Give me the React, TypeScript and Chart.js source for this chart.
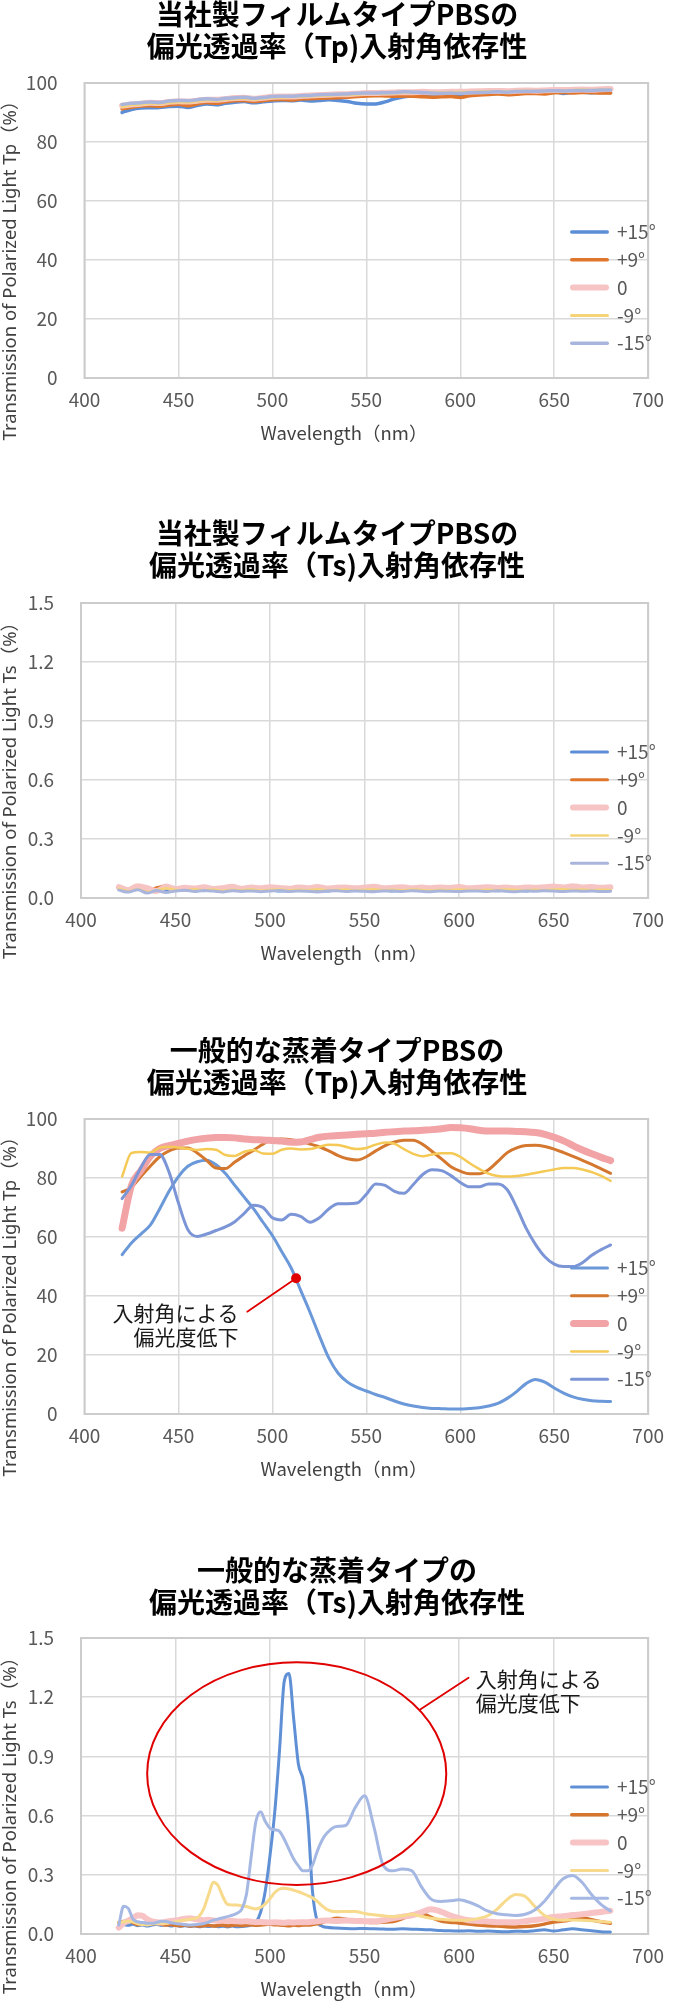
import React, { useEffect, useRef } from "react";
import { Chart, registerables } from "chart.js";

Chart.register(...registerables);

// ---------- shared axis / category data ----------
const WAVELENGTHS = [
  420, 425, 430, 435, 440, 445, 450, 455, 460, 465,
  470, 475, 480, 485, 490, 495, 500, 505, 510, 515,
  520, 525, 530, 535, 540, 545, 550, 555, 560, 565,
  570, 575, 580, 585, 590, 595, 600, 605, 610, 615,
  620, 625, 630, 635, 640, 645, 650, 655, 660, 665,
  670, 675, 680,
];
const WAVELENGTHS_FINE = [
  420, 422.5, 425, 427.5, 430, 432.5, 435, 437.5, 440, 442.5,
  445, 447.5, 450, 452.5, 455, 457.5, 460, 462.5, 465, 467.5,
  470, 472.5, 475, 477.5, 480, 482.5, 485, 487.5, 490, 492.5,
  495, 497.5, 500, 502.5, 505, 507.5, 510, 512.5, 515, 517.5,
  520, 522.5, 525, 527.5, 530, 535, 540, 545, 550, 555,
  560, 565, 570, 575, 580, 585, 590, 595, 600, 605,
  610, 615, 620, 625, 630, 635, 640, 645, 650, 655,
  660, 665, 670, 675, 680,
];
const SERIES_LABELS = ["+15°", "+9°", "0", "-9°", "-15°"];
const X_MIN = 400;
const X_MAX = 700;
const X_STEP = 50;
const TP_MAX = 100;
const TP_STEP = 20;
const TS_MAX = 1.5;
const TS_STEP = 0.3;

// ---------- chart 1: film PBS, Tp ----------
const FILM_TP_P15 = [
  90.0, 91.0, 91.5, 91.6, 91.7, 92.0, 92.1, 91.7, 92.4, 92.9,
  92.6, 93.1, 93.5, 93.7, 93.3, 93.6, 93.9, 94.1, 94.0, 94.2,
  93.9, 94.1, 94.3, 94.1, 93.7, 93.1, 92.9, 92.9, 93.6, 94.6,
  95.3, 95.7, 95.9, 96.0, 96.2, 96.1, 96.0, 96.3, 96.4, 96.6,
  96.7, 96.6, 96.8, 96.9, 96.8, 97.0, 97.1, 96.4, 96.9, 96.9,
  96.7, 96.8, 96.7,
];
const FILM_TP_P9 = [
  91.2, 91.8, 92.2, 92.3, 92.1, 92.5, 92.8, 92.3, 92.9, 93.4,
  93.1, 93.6, 94.0, 94.1, 93.7, 94.0, 94.3, 94.4, 94.2, 94.6,
  94.7, 94.8, 94.9, 95.0, 95.2, 95.4, 95.6, 95.7, 95.6, 95.5,
  95.6, 95.5, 95.3, 95.2, 95.3, 95.4, 95.1, 95.7, 95.9, 96.1,
  96.3, 96.0, 96.2, 96.4, 96.4, 96.3, 96.7, 96.8, 96.6, 96.8,
  96.7, 96.6, 96.6,
];
const FILM_TP_Z = [
  92.3, 92.7, 93.0, 93.3, 93.2, 93.6, 93.8, 93.7, 94.0, 94.3,
  94.3, 94.6, 94.9, 95.0, 94.7, 95.0, 95.3, 95.4, 95.4, 95.6,
  95.8, 95.9, 96.0, 96.2, 96.2, 96.4, 96.6, 96.6, 96.7, 96.8,
  96.9, 96.9, 97.0, 96.9, 96.9, 97.0, 97.0, 97.1, 97.2, 97.3,
  97.3, 97.2, 97.4, 97.5, 97.4, 97.5, 97.6, 97.6, 97.7, 97.8,
  97.7, 97.9, 98.0,
];
const FILM_TP_M9 = [
  92.0, 92.6, 92.8, 93.1, 93.0, 93.4, 93.6, 93.5, 93.8, 94.2,
  94.1, 94.5, 94.7, 94.8, 94.5, 94.8, 95.1, 95.2, 95.3, 95.4,
  95.6, 95.7, 95.8, 96.0, 96.0, 96.2, 96.4, 96.4, 96.5, 96.6,
  96.8, 96.7, 96.8, 96.7, 96.7, 96.8, 96.9, 96.9, 97.0, 97.1,
  97.1, 97.0, 97.2, 97.3, 97.2, 97.3, 97.4, 97.4, 97.5, 97.7,
  97.5, 97.7, 97.7,
];
const FILM_TP_M15 = [
  92.7, 93.1, 93.3, 93.6, 93.4, 93.9, 94.1, 94.0, 94.3, 94.7,
  94.4, 94.8, 95.0, 95.2, 94.8, 95.1, 95.4, 95.5, 95.5, 95.7,
  95.8, 96.0, 96.1, 96.2, 96.3, 96.5, 96.6, 96.6, 96.7, 96.8,
  97.0, 96.9, 96.8, 96.6, 96.5, 96.6, 96.5, 96.7, 96.8, 96.9,
  97.0, 96.9, 97.1, 97.2, 97.2, 97.3, 97.4, 97.3, 97.4, 97.5,
  97.5, 97.6, 97.6,
];

// ---------- chart 2: film PBS, Ts ----------
const FILM_TS_P15 = [
  0.045, 0.038, 0.05, 0.032, 0.042, 0.036, 0.048, 0.041, 0.044, 0.037,
  0.043, 0.039, 0.045, 0.036, 0.04, 0.038, 0.042, 0.035, 0.039, 0.041,
  0.037, 0.04, 0.036, 0.041, 0.038, 0.043, 0.039, 0.037, 0.041, 0.036,
  0.04, 0.038, 0.042, 0.037, 0.039, 0.041, 0.036, 0.04, 0.038, 0.042,
  0.037, 0.04, 0.039, 0.036, 0.041, 0.038, 0.04, 0.043, 0.039, 0.041,
  0.038, 0.04, 0.037,
];
const FILM_TS_P9 = [
  0.05, 0.042, 0.058, 0.035, 0.052, 0.062, 0.038, 0.055, 0.049, 0.044,
  0.053, 0.04, 0.047, 0.045, 0.05, 0.043, 0.048, 0.052, 0.041, 0.049,
  0.046, 0.051, 0.044, 0.047, 0.05, 0.043, 0.052, 0.046, 0.049, 0.053,
  0.045, 0.048, 0.051, 0.044, 0.05, 0.047, 0.049, 0.052, 0.045, 0.048,
  0.05, 0.046, 0.051, 0.047, 0.049, 0.053, 0.046, 0.05, 0.052, 0.048,
  0.05, 0.047, 0.046,
];
const FILM_TS_Z = [
  0.055, 0.04, 0.06, 0.05, 0.035, 0.058, 0.045, 0.052, 0.048, 0.055,
  0.046, 0.05, 0.057, 0.047, 0.053, 0.049, 0.055, 0.051, 0.047, 0.054,
  0.05, 0.056, 0.048, 0.052, 0.054, 0.049, 0.053, 0.057, 0.05, 0.052,
  0.055, 0.049, 0.053, 0.05, 0.054, 0.051, 0.056, 0.05, 0.052, 0.055,
  0.051, 0.053, 0.049, 0.054, 0.052, 0.055, 0.058, 0.053, 0.06, 0.054,
  0.056, 0.052, 0.055,
];
const FILM_TS_M9 = [
  0.048, 0.035, 0.045, 0.03, 0.04, 0.05, 0.042, 0.038, 0.045, 0.04,
  0.043, 0.037, 0.042, 0.04, 0.044, 0.038, 0.041, 0.043, 0.039, 0.042,
  0.04, 0.044, 0.039, 0.041, 0.043, 0.038, 0.042, 0.044, 0.04, 0.042,
  0.039, 0.043, 0.041, 0.038, 0.042, 0.04, 0.043, 0.041, 0.039, 0.042,
  0.04, 0.043, 0.041, 0.039, 0.042, 0.04, 0.043, 0.045, 0.041, 0.043,
  0.04, 0.042, 0.041,
];
const FILM_TS_M15 = [
  0.04, 0.03, 0.042, 0.025, 0.038, 0.028, 0.036, 0.04, 0.033, 0.038,
  0.035, 0.031, 0.037, 0.034, 0.036, 0.032, 0.035, 0.038, 0.033, 0.036,
  0.034, 0.031, 0.035, 0.037, 0.033, 0.036, 0.034, 0.032, 0.036, 0.035,
  0.033, 0.037, 0.034, 0.032, 0.036, 0.034, 0.033, 0.036, 0.035, 0.033,
  0.037, 0.034, 0.032, 0.036, 0.034, 0.037, 0.035, 0.033, 0.036, 0.034,
  0.035, 0.033, 0.034,
];

// ---------- chart 3: evaporated PBS, Tp ----------
const EVAP_TP_P15 = [
  54, 58, 61, 64, 69.5, 75.5, 80.5, 84, 85.5, 86,
  84.5, 81.5, 77.5, 73.5, 69.5, 65, 60.5, 55, 49.5, 42,
  34.5, 26.5, 19, 13.8, 10.8, 9, 7.8, 6.6, 5.6, 4.4,
  3.4, 2.7, 2.2, 1.9, 1.8, 1.7, 1.7, 1.9, 2.1, 2.7,
  3.6, 5.3, 7.6, 10.3, 11.7, 10.8, 8.8, 7.1, 5.8, 5.0,
  4.5, 4.3, 4.2,
];
const EVAP_TP_P9 = [
  75.3, 76.8, 80.5, 84, 87.2, 89.2, 90.2, 90.2, 88.5, 86,
  83.4, 83.2, 85.4, 87.5, 89.4, 91.5, 93, 93.2, 93, 92.4,
  91.5, 90.6, 89.2, 87.6, 86.5, 86.1, 87.2, 89.2, 91, 92.2,
  92.8, 92.8, 91.4, 89, 86.5, 83.8, 82.3, 81.4, 81.4, 82.8,
  85.6, 88.6, 90.2, 91, 91.1, 90.7, 89.8, 88.6, 87.3, 86,
  84.6, 83.1, 81.6,
];
const EVAP_TP_Z = [
  63, 77.5, 82.5, 87.3, 90, 91, 91.7, 92.5, 93.1, 93.5,
  93.7, 93.7, 93.6, 93.2, 93, 92.9, 92.7, 92.5, 92.1, 92.2,
  93, 93.8, 94.2, 94.4, 94.6, 94.8, 95, 95.2, 95.5, 95.7,
  95.9, 96, 96.2, 96.4, 96.7, 97.1, 97, 96.7, 96.2, 95.9,
  95.9, 95.9, 95.8, 95.7, 95.4, 94.8, 93.8, 92.6, 91, 89.5,
  88.2, 87, 85.9,
];
const EVAP_TP_M9 = [
  80.5, 88.5, 88.8, 88.6, 90.3, 90.6, 90.3, 89.9, 89.5, 89.8,
  89.6, 87.8, 87.5, 88.9, 89.5, 88.3, 88.2, 89.6, 90, 89.7,
  89.8, 90.6, 91.3, 91.2, 90.4, 89.8, 90.2, 91.3, 92, 91.6,
  89.8, 88.2, 87.4, 88, 88.4, 88.4, 87.2, 85, 83.1, 81.5,
  80.7, 80.5, 80.7, 81.1, 81.7, 82.3, 82.9, 83.4, 83.4, 82.9,
  82, 80.7, 79,
];
const EVAP_TP_M15 = [
  73, 77.5, 83.5, 88, 88, 82, 71.5, 62.5, 60.2, 61,
  62.2, 63.4, 65.2, 68, 70.8, 70, 66.5, 65.8, 67.7, 67,
  65, 66.5, 69.5, 71.3, 71.3, 71.5, 74.5, 78, 77.5, 75.5,
  74.8, 77.8, 81.2, 82.8, 82.5, 80.8, 78.5, 77, 77, 78,
  78, 76, 70, 63, 57.5, 53.3, 50.8, 50, 50, 51.3,
  53.8, 55.7, 57.3,
];

// ---------- chart 4: evaporated PBS, Ts (fine wavelength grid) ----------
const EVAP_TS_P15 = [
  0.045, 0.048, 0.044, 0.05, 0.042, 0.046, 0.04, 0.045, 0.05, 0.043,
  0.047, 0.04, 0.044, 0.039, 0.042, 0.038, 0.041, 0.037, 0.04, 0.038,
  0.041, 0.037, 0.039, 0.036, 0.04, 0.037, 0.038, 0.04, 0.045, 0.058,
  0.11, 0.22, 0.4, 0.62, 0.93, 1.28, 1.32, 1.09, 0.86, 0.78,
  0.58, 0.21, 0.065, 0.04, 0.034, 0.03, 0.028, 0.027, 0.028, 0.026,
  0.025, 0.024, 0.026, 0.024, 0.023, 0.021, 0.018, 0.016, 0.015, 0.016,
  0.014, 0.015, 0.013, 0.012, 0.014, 0.013, 0.016, 0.022, 0.015, 0.021,
  0.026, 0.022, 0.016, 0.012, 0.01,
];
const EVAP_TS_P9 = [
  0.059, 0.063, 0.067, 0.058, 0.047, 0.05, 0.054, 0.051, 0.055, 0.05,
  0.046, 0.048, 0.044, 0.042, 0.045, 0.041, 0.043, 0.04, 0.042, 0.044,
  0.041, 0.043, 0.045, 0.042, 0.044, 0.046, 0.043, 0.045, 0.047, 0.044,
  0.046, 0.048, 0.05, 0.047, 0.046, 0.044, 0.042, 0.045, 0.043, 0.046,
  0.045, 0.048, 0.052, 0.058, 0.066, 0.08, 0.075, 0.063, 0.06, 0.058,
  0.06, 0.063, 0.078, 0.1, 0.104, 0.085, 0.067, 0.06, 0.056, 0.05,
  0.046, 0.042, 0.04, 0.037, 0.036, 0.038, 0.042, 0.05, 0.061, 0.066,
  0.074, 0.082, 0.072, 0.062, 0.054,
];
const EVAP_TS_Z = [
  0.032, 0.055, 0.067, 0.08, 0.095, 0.092, 0.075, 0.064, 0.06, 0.058,
  0.062, 0.066, 0.068, 0.072, 0.078, 0.08, 0.076, 0.072, 0.07, 0.072,
  0.069, 0.066, 0.068, 0.065, 0.066, 0.064, 0.063, 0.065, 0.062, 0.06,
  0.061, 0.059, 0.058, 0.06, 0.058, 0.057, 0.059, 0.058, 0.06, 0.059,
  0.06, 0.062, 0.065, 0.067, 0.068, 0.066, 0.068, 0.066, 0.065, 0.064,
  0.07, 0.08, 0.088, 0.095, 0.11, 0.125, 0.115, 0.095, 0.08, 0.07,
  0.066, 0.063, 0.06, 0.06, 0.059, 0.065, 0.071, 0.078, 0.086, 0.09,
  0.096, 0.1, 0.106, 0.112, 0.118,
];
const EVAP_TS_M9 = [
  0.059, 0.062, 0.064, 0.06, 0.052, 0.048, 0.046, 0.05, 0.053, 0.055,
  0.054, 0.058, 0.062, 0.067, 0.071, 0.075, 0.078, 0.09, 0.13, 0.2,
  0.262, 0.245, 0.19, 0.15, 0.147, 0.147, 0.143, 0.139, 0.132, 0.127,
  0.135, 0.153, 0.18, 0.21, 0.228, 0.232, 0.228, 0.222, 0.214, 0.205,
  0.195, 0.183, 0.165, 0.143, 0.125, 0.113, 0.114, 0.114, 0.104, 0.097,
  0.092, 0.088, 0.092, 0.1, 0.09, 0.08, 0.075, 0.071, 0.07, 0.071,
  0.078, 0.092, 0.125, 0.172, 0.2, 0.19, 0.14, 0.095, 0.075, 0.07,
  0.071, 0.07, 0.067, 0.063, 0.059,
];
const EVAP_TS_M15 = [
  0.045, 0.14, 0.13, 0.075, 0.062, 0.058, 0.055, 0.054, 0.058, 0.064,
  0.063, 0.057, 0.053, 0.05, 0.047, 0.046, 0.047, 0.049, 0.053, 0.06,
  0.07, 0.076, 0.082, 0.088, 0.095, 0.105, 0.125, 0.2, 0.39, 0.57,
  0.62, 0.57, 0.535, 0.528, 0.52, 0.48, 0.43, 0.38, 0.345, 0.32,
  0.32, 0.35, 0.42, 0.475, 0.51, 0.545, 0.55, 0.64, 0.7, 0.54,
  0.345, 0.32, 0.33, 0.32, 0.24, 0.178, 0.165, 0.168, 0.173, 0.162,
  0.142, 0.117, 0.103, 0.097, 0.094, 0.1, 0.122, 0.165, 0.225, 0.28,
  0.297, 0.262, 0.2, 0.15, 0.117,
];

// ---------- annotation anchors (data coordinates) ----------
const NOTE_LINES = ["入射角による", "偏光度低下"];
const NOTE3_DOT = { x: 512.6, y: 46 };
const NOTE3_TAIL = { x: 486.6, y: 34.7 };
const NOTE3_TEXT = { x: 482, y1: 34.1, y2: 26.2 };
const NOTE4_ELLIPSE = { x: 514.1, y: 0.8126, rx: 79.1, ry: 0.564 };
const NOTE4_LEAD_FROM = { x: 579.4, y: 1.138 };
const NOTE4_LEAD_TO = { x: 605, y: 1.299 };
const NOTE4_TEXT = { x: 608.8, y1: 1.29, y2: 1.172 };

const JP = '"Noto Sans CJK JP", "Noto Sans", sans-serif';
const RED = "#e00000";

type NoteFn = (chart: any, ctx: CanvasRenderingContext2D) => void;

interface Spec {
  title: string[];
  yTitle: string;
  xs: number[];
  series: number[][];
  colors: string[];
  widths: number[];
  yMax: number;
  yStep: number;
  decimals: number;
  height: number;
  top: number;
  bottom: number;
  left: number;
  titleY: number;
  note?: NoteFn;
}

const note3: NoteFn = (chart, ctx) => {
  const xs = chart.scales.x;
  const ys = chart.scales.y;
  const dx = xs.getPixelForValue(NOTE3_DOT.x);
  const dy = ys.getPixelForValue(NOTE3_DOT.y);
  ctx.strokeStyle = RED;
  ctx.lineWidth = 1.8;
  ctx.beginPath();
  ctx.moveTo(dx, dy);
  ctx.lineTo(xs.getPixelForValue(NOTE3_TAIL.x), ys.getPixelForValue(NOTE3_TAIL.y));
  ctx.stroke();
  ctx.fillStyle = RED;
  ctx.beginPath();
  ctx.arc(dx, dy, 5, 0, Math.PI * 2);
  ctx.fill();
  ctx.fillStyle = "#1a1a1a";
  ctx.font = `21px ${JP}`;
  ctx.textAlign = "right";
  ctx.textBaseline = "middle";
  const tx = xs.getPixelForValue(NOTE3_TEXT.x);
  ctx.fillText(NOTE_LINES[0], tx, ys.getPixelForValue(NOTE3_TEXT.y1));
  ctx.fillText(NOTE_LINES[1], tx, ys.getPixelForValue(NOTE3_TEXT.y2));
};

const note4: NoteFn = (chart, ctx) => {
  const xs = chart.scales.x;
  const ys = chart.scales.y;
  const cx = xs.getPixelForValue(NOTE4_ELLIPSE.x);
  const cy = ys.getPixelForValue(NOTE4_ELLIPSE.y);
  const rx = xs.getPixelForValue(NOTE4_ELLIPSE.x + NOTE4_ELLIPSE.rx) - cx;
  const ry = cy - ys.getPixelForValue(NOTE4_ELLIPSE.y + NOTE4_ELLIPSE.ry);
  ctx.strokeStyle = RED;
  ctx.lineWidth = 2;
  ctx.beginPath();
  ctx.ellipse(cx, cy, rx, ry, 0, 0, Math.PI * 2);
  ctx.stroke();
  ctx.lineWidth = 1.8;
  ctx.beginPath();
  ctx.moveTo(xs.getPixelForValue(NOTE4_LEAD_FROM.x), ys.getPixelForValue(NOTE4_LEAD_FROM.y));
  ctx.lineTo(xs.getPixelForValue(NOTE4_LEAD_TO.x), ys.getPixelForValue(NOTE4_LEAD_TO.y));
  ctx.stroke();
  ctx.fillStyle = "#1a1a1a";
  ctx.font = `21px ${JP}`;
  ctx.textAlign = "left";
  ctx.textBaseline = "middle";
  const tx = xs.getPixelForValue(NOTE4_TEXT.x);
  ctx.fillText(NOTE_LINES[0], tx, ys.getPixelForValue(NOTE4_TEXT.y1));
  ctx.fillText(NOTE_LINES[1], tx, ys.getPixelForValue(NOTE4_TEXT.y2));
};

const SPECS: Spec[] = [
  {
    title: ["当社製フィルムタイプPBSの", "偏光透過率（Tp)入射角依存性"],
    yTitle: "Transmission of Polarized Light Tp（%）",
    xs: WAVELENGTHS,
    series: [FILM_TP_P15, FILM_TP_P9, FILM_TP_Z, FILM_TP_M9, FILM_TP_M15],
    colors: ["#5b8ed6", "#e0762c", "#f7c4c4", "#f5d478", "#a9b5dc"],
    widths: [3.5, 3.5, 6, 3, 3.5],
    yMax: TP_MAX,
    yStep: TP_STEP,
    decimals: 0,
    height: 519,
    top: 83,
    bottom: 378,
    left: 84.5,
    titleY: 14,
  },
  {
    title: ["当社製フィルムタイプPBSの", "偏光透過率（Ts)入射角依存性"],
    yTitle: "Transmission of Polarized Light Ts（%）",
    xs: WAVELENGTHS,
    series: [FILM_TS_P15, FILM_TS_P9, FILM_TS_Z, FILM_TS_M9, FILM_TS_M15],
    colors: ["#5b8ed6", "#e0762c", "#f7c4c4", "#f5d478", "#a9b5dc"],
    widths: [3, 3, 6, 2.5, 3],
    yMax: TS_MAX,
    yStep: TS_STEP,
    decimals: 1,
    height: 518,
    top: 84,
    bottom: 379,
    left: 81,
    titleY: 14,
  },
  {
    title: ["一般的な蒸着タイプPBSの", "偏光透過率（Tp)入射角依存性"],
    yTitle: "Transmission of Polarized Light Tp（%）",
    xs: WAVELENGTHS,
    series: [EVAP_TP_P15, EVAP_TP_P9, EVAP_TP_Z, EVAP_TP_M9, EVAP_TP_M15],
    colors: ["#6a98d8", "#d4772f", "#f2a3a6", "#f4c955", "#7b95d6"],
    widths: [3, 3, 7, 2.5, 3],
    yMax: TP_MAX,
    yStep: TP_STEP,
    decimals: 0,
    height: 518,
    top: 82,
    bottom: 377,
    left: 84.5,
    titleY: 13,
    note: note3,
  },
  {
    title: ["一般的な蒸着タイプの", "偏光透過率（Ts)入射角依存性"],
    yTitle: "Transmission of Polarized Light Ts（%）",
    xs: WAVELENGTHS_FINE,
    series: [EVAP_TS_P15, EVAP_TS_P9, EVAP_TS_Z, EVAP_TS_M9, EVAP_TS_M15],
    colors: ["#5f90d6", "#d6762e", "#f7c3c5", "#f7da8c", "#a5b8e3"],
    widths: [3, 3.5, 6, 3, 3],
    yMax: TS_MAX,
    yStep: TS_STEP,
    decimals: 1,
    height: 446,
    top: 83,
    bottom: 379,
    left: 81,
    titleY: 15,
    note: note4,
  },
];

function makeDecor(spec: Spec) {
  return {
    id: "decor",
    beforeDatasetsDraw(chart: any) {
      const { ctx, chartArea: a } = chart;
      ctx.save();
      ctx.strokeStyle = "#cccccc";
      ctx.lineWidth = 2;
      ctx.strokeRect(a.left, a.top, a.right - a.left, a.bottom - a.top);
      ctx.restore();
    },
    afterDatasetsDraw(chart: any) {
      const { ctx, chartArea: a } = chart;
      ctx.save();
      SERIES_LABELS.forEach((label, i) => {
        const y = a.top + 149 + 27.8 * i;
        const w = spec.widths[i];
        ctx.strokeStyle = spec.colors[i];
        ctx.lineWidth = w;
        ctx.lineCap = "round";
        ctx.beginPath();
        ctx.moveTo(570 + w / 2, y);
        ctx.lineTo(609 - w / 2, y);
        ctx.stroke();
        ctx.fillStyle = "#595959";
        ctx.font = `19px ${JP}`;
        ctx.textAlign = "left";
        ctx.textBaseline = "middle";
        ctx.fillText(label, 617, y);
      });
      if (spec.note) spec.note(chart, ctx);
      ctx.restore();
    },
    afterDraw(chart: any) {
      const { ctx, chartArea: a } = chart;
      ctx.save();
      ctx.fillStyle = "#000000";
      ctx.font = `bold 28px ${JP}`;
      ctx.textAlign = "center";
      ctx.textBaseline = "middle";
      spec.title.forEach((t, i) => ctx.fillText(t, 337, spec.titleY + 32 * i));
      ctx.fillStyle = "#404040";
      ctx.font = `18.5px ${JP}`;
      ctx.fillText("Wavelength（nm）", 344, a.bottom + 55);
      ctx.translate(11, a.top + 183);
      ctx.rotate(-Math.PI / 2);
      ctx.font = `18.5px "Noto Sans", "Noto Sans CJK JP", sans-serif`;
      ctx.fillText(spec.yTitle, 0, 0);
      ctx.restore();
    },
  };
}

function buildConfig(spec: Spec): any {
  const tickFont = { family: JP, size: 19 };
  return {
    type: "line",
    data: {
      datasets: spec.series.map((vals, i) => ({
        label: SERIES_LABELS[i],
        data: spec.xs.map((w, j) => ({ x: w, y: vals[j] })),
        borderColor: spec.colors[i],
        backgroundColor: spec.colors[i],
        borderWidth: spec.widths[i],
        pointRadius: 0,
        cubicInterpolationMode: "monotone",
        borderCapStyle: "round",
        borderJoinStyle: "round",
        fill: false,
        order: SERIES_LABELS.length - 1 - i,
      })),
    },
    options: {
      responsive: false,
      animation: false,
      devicePixelRatio: 1,
      layout: { padding: { top: spec.top, right: 15, bottom: 0, left: 0 } },
      plugins: {
        legend: { display: false },
        title: { display: false },
        tooltip: { enabled: false },
      },
      scales: {
        x: {
          type: "linear",
          min: X_MIN,
          max: X_MAX,
          ticks: {
            stepSize: X_STEP,
            color: "#595959",
            font: tickFont,
            padding: 10,
            maxRotation: 0,
            autoSkip: false,
          },
          grid: { color: "#d9d9d9", lineWidth: 1.5, drawTicks: false },
          border: { display: false },
          afterFit: (s: any) => {
            s.height = spec.height - spec.bottom;
          },
        },
        y: {
          type: "linear",
          min: 0,
          max: spec.yMax,
          ticks: {
            stepSize: spec.yStep,
            color: "#595959",
            font: tickFont,
            padding: 27,
            callback: (v: any) => Number(v).toFixed(spec.decimals),
          },
          grid: { color: "#d9d9d9", lineWidth: 1.5, drawTicks: false },
          border: { display: false },
          afterFit: (s: any) => {
            s.width = spec.left;
          },
        },
      },
    },
    plugins: [makeDecor(spec)],
  };
}

function ChartPanel({ spec }: { spec: Spec }) {
  const ref = useRef<HTMLCanvasElement | null>(null);
  useEffect(() => {
    if (!ref.current) return;
    const chart = new Chart(ref.current, buildConfig(spec));
    return () => chart.destroy();
  }, [spec]);
  return (
    <canvas
      ref={ref}
      width={674}
      height={spec.height}
      style={{ display: "block", width: 674, height: spec.height }}
    />
  );
}

export default function App() {
  return (
    <div style={{ position: "absolute", left: 0, top: 0, width: 674, background: "#ffffff" }}>
      {SPECS.map((s, i) => (
        <ChartPanel key={i} spec={s} />
      ))}
    </div>
  );
}
